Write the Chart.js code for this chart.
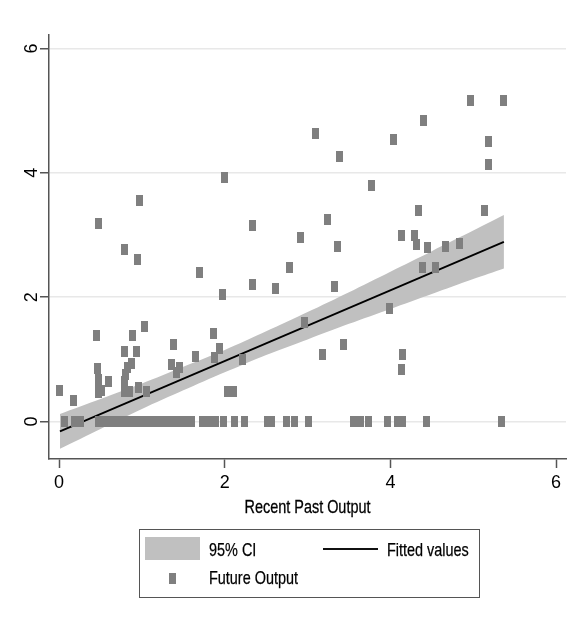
<!DOCTYPE html>
<html>
<head>
<meta charset="utf-8">
<script src="https://cdn.jsdelivr.net/npm/chart.js@4/dist/chart.umd.min.js"></script>
<style>
  html, body { margin: 0; padding: 0; background: #ffffff; }
  #wrap { position: relative; width: 572px; height: 624px; overflow: hidden; }
  #chart { position: absolute; left: 0; top: 0; }
  .lg { position: absolute; font-family: 'Liberation Sans', Arial, Helvetica, sans-serif; font-size: 18.5px; color: #000; line-height: 20px; white-space: nowrap; transform: scaleX(0.78); transform-origin: 0 0; -webkit-text-stroke: 0.25px #000; }
  #legendBox { position: absolute; left: 139px; top: 529px; width: 339px; height: 67px; border: 1.5px solid #555; box-sizing: content-box; }
</style>
</head>
<body>
<div id="wrap">
  <canvas id="chart" width="572" height="624"></canvas>
  <div id="legendBox"></div>
  <div style="position:absolute;left:145px;top:537px;width:55px;height:23px;background:#c0c0c0;"></div>
  <div class="lg" style="left:209px;top:540px;">95% CI</div>
  <div style="position:absolute;left:323px;top:548px;width:55px;height:2px;background:#111;"></div>
  <div class="lg" style="left:387px;top:540px;">Fitted values</div>
  <div style="position:absolute;left:169px;top:573px;width:7px;height:11px;background:#7f7f7f;"></div>
  <div class="lg" style="left:209px;top:568px;">Future Output</div>
</div>
<script>
// ---- data ----
const pastOutput = [
  0.47, 0.965, 0.79, 0.95, 2.00, 2.34, 1.70, 2.34, 2.61, 1.97, 2.78,
  3.09, 3.39, 3.77, 3.24, 2.91, 3.36, 3.32,
  4.04, 4.40, 4.97, 5.37, 5.19, 5.19, 4.34, 5.13, 4.13, 4.29, 4.31, 4.45, 4.67, 4.84, 4.39, 4.55,
  3.99, 2.96, 3.43, 3.18, 4.15, 4.13,
  0.45, 0.89, 1.03, 0.79, 0.94, 1.38, 1.86, 1.94, 1.65, 1.88, 2.22, 1.36, 1.45, 1.42,
  0.46, 0.47, 0.47, 0.47, 0.51, 0.60,
  0.88, 0.83, 0.80, 0.79, 0.79, 0.79, 0.85, 0.96, 1.05,
  0.01, 0.17, 2.03, 2.10,
  0.07, 0.19, 0.26, 0.47, 0.55, 0.63, 0.71, 0.79, 0.87, 0.95, 1.03, 1.12, 1.20, 1.28, 1.36,
  1.44, 1.52, 1.60, 1.73, 1.81, 1.89, 1.98, 2.12, 2.24, 2.52, 2.56, 2.75, 2.84, 3.01,
  3.55, 3.64, 3.73, 3.96, 4.09, 4.15, 4.43, 5.34
];
const futureOutput = [
  3.19, 3.56, 2.77, 2.60, 3.93, 3.15, 2.40, 2.20, 2.14, 2.05, 2.48,
  4.64, 4.26, 3.80, 3.25, 2.96, 2.81, 2.17,
  4.54, 4.84, 5.17, 5.17, 4.50, 4.13, 3.39, 3.39, 2.99, 2.99, 2.84, 2.80, 2.82, 2.87, 2.47, 2.48,
  1.82, 1.59, 1.24, 1.08, 1.07, 0.83,
  1.38, 1.39, 1.53, 1.13, 1.12, 1.23, 1.41, 1.17, 1.05, 1.03, 1.00, 0.91, 0.87, 0.79,
  0.85, 0.67, 0.54, 0.46, 0.49, 0.64,
  0.93, 0.87, 0.76, 0.65, 0.56, 0.48, 0.48, 0.54, 0.48,
  0.49, 0.34, 0.48, 0.48,
  0, 0, 0, 0, 0, 0, 0, 0, 0, 0, 0, 0, 0, 0, 0,
  0, 0, 0, 0, 0, 0, 0, 0, 0, 0, 0, 0, 0, 0,
  0, 0, 0, 0, 0, 0, 0, 0
];
const fitX = [0.01, 5.37];
const fitY = [-0.16, 2.89];
const ciX     = [0.01, 0.5, 1.0, 1.5, 2.0, 2.5, 3.0, 3.5, 4.0, 4.5, 5.0, 5.37];
const ciUpper = [0.12, 0.36, 0.61, 0.88, 1.15, 1.45, 1.76, 2.08, 2.41, 2.74, 3.07, 3.32];
const ciLower = [-0.44, -0.12, 0.20, 0.50, 0.79, 1.07, 1.32, 1.57, 1.81, 2.05, 2.29, 2.46];
const xTickLabels = [0, 2, 4, 6];
const yTickLabels = [0, 2, 4, 6];
const xTitle = 'Recent Past Output';

// ---- marker: tall gray rectangle ----
const marker = document.createElement('canvas');
marker.width = 7; marker.height = 11;
const mctx = marker.getContext('2d');
mctx.fillStyle = '#7f7f7f';
mctx.fillRect(0, 0, 7, 11);

const FONT = "'Liberation Sans', Arial, Helvetica, sans-serif";

const pts = pastOutput.map((x, i) => ({ x: x, y: futureOutput[i] }));
const fitPts = fitX.map((x, i) => ({ x: x, y: fitY[i] }));
const upPts = ciX.map((x, i) => ({ x: x, y: ciUpper[i] }));
const loPts = ciX.map((x, i) => ({ x: x, y: ciLower[i] }));

// condensed axis title drawn under the x scale
const narrowTitle = {
  id: 'narrowTitle',
  afterDraw(chart) {
    const ctx = chart.ctx;
    const xs = chart.scales.x;
    const cx = (xs.left + xs.right) / 2;
    ctx.save();
    ctx.font = '18.5px ' + FONT;
    ctx.fillStyle = '#000';
    ctx.strokeStyle = '#000';
    ctx.lineWidth = 0.3;
    ctx.textAlign = 'center';
    ctx.textBaseline = 'alphabetic';
    ctx.translate(cx, 512.5);
    ctx.scale(0.78, 1);
    ctx.fillText(xTitle, 0, 0);
    ctx.strokeText(xTitle, 0, 0);
    ctx.restore();
  }
};

new Chart(document.getElementById('chart'), {
  type: 'scatter',
  data: {
    datasets: [
      { label: 'Future Output', data: pts, pointStyle: marker, pointRadius: 5, showLine: false, order: 0 },
      { label: 'Fitted values', data: fitPts, showLine: true, borderColor: '#000', borderWidth: 1.8, pointRadius: 0, fill: false, order: 1 },
      { label: 'ci_lo', data: loPts, showLine: true, borderWidth: 0, borderColor: 'rgba(0,0,0,0)', pointRadius: 0, fill: false, tension: 0.3, order: 3 },
      { label: '95% CI', data: upPts, showLine: true, borderWidth: 0, borderColor: 'rgba(0,0,0,0)', pointRadius: 0, backgroundColor: '#c0c0c0', fill: '-1', tension: 0.3, order: 2 }
    ]
  },
  options: {
    responsive: false,
    animation: false,
    events: [],
    layout: { padding: { top: 35, right: 2, bottom: 0, left: 0 } },
    plugins: { legend: { display: false }, tooltip: { enabled: false }, title: { display: false } },
    scales: {
      x: {
        type: 'linear', min: -0.122, max: 6.12,
        afterFit: (s) => { s.height = 165; },
        afterBuildTicks: (s) => { s.ticks = xTickLabels.map(v => ({ value: v })); },
        grid: { drawOnChartArea: false, drawTicks: true, tickLength: 9, tickColor: '#555', tickWidth: 1.5 },
        border: { display: true, color: '#555', width: 1.5 },
        ticks: { color: '#000', padding: 4, font: { family: FONT, size: 18 }, maxRotation: 0, minRotation: 0 },
        title: { display: false }
      },
      y: {
        type: 'linear', min: -0.604, max: 6.217,
        afterFit: (s) => { s.width = 49; },
        afterBuildTicks: (s) => { s.ticks = yTickLabels.map(v => ({ value: v })); },
        grid: { drawOnChartArea: true, color: '#e8e8e8', lineWidth: 1.5, drawTicks: true, tickLength: 9, tickColor: '#555', tickWidth: 1.5 },
        border: { display: true, color: '#555', width: 1.5 },
        ticks: { color: '#000', padding: 3, minRotation: 90, maxRotation: 90, crossAlign: 'center', font: { family: FONT, size: 18 } }
      }
    }
  },
  plugins: [narrowTitle]
});
</script>
</body>
</html>
